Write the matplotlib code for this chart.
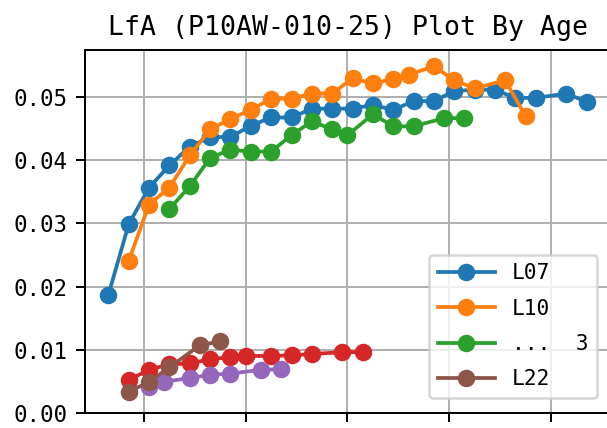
import matplotlib
matplotlib.use('Agg')
import matplotlib.pyplot as plt

plt.rcParams['font.family'] = ['DejaVu Sans Mono']

# age values and LfA values per line
age_l07 = [18.25, 19.25, 20.25, 21.25, 22.25, 23.25, 24.25, 25.25, 26.25, 27.25, 28.25, 29.25,
           30.25, 31.25, 32.25, 33.25, 34.25, 35.25, 36.25, 37.25, 38.25, 39.25, 40.75, 41.75]
lfa_l07 = [0.0187, 0.0299, 0.0357, 0.0392, 0.0422, 0.0437, 0.0437, 0.0455, 0.0468, 0.0468, 0.0482, 0.0482,
           0.0482, 0.0488, 0.0480, 0.0494, 0.0494, 0.0510, 0.0512, 0.0512, 0.0499, 0.0499, 0.0506, 0.0493]

age_l10 = [19.25, 20.25, 21.25, 22.25, 23.25, 24.25, 25.25, 26.25, 27.25, 28.25,
           29.25, 30.25, 31.25, 32.25, 33.0, 34.25, 35.25, 36.25, 37.75, 38.75]
lfa_l10 = [0.0241, 0.0330, 0.0357, 0.0408, 0.0449, 0.0466, 0.0480, 0.0498, 0.0498, 0.0506,
           0.0506, 0.0530, 0.0522, 0.0529, 0.0536, 0.0549, 0.0527, 0.0514, 0.0527, 0.0470]

age_3 = [21.25, 22.25, 23.25, 24.25, 25.25, 26.25, 27.25, 28.25, 29.25, 30.0,
         31.25, 32.25, 33.25, 34.75, 35.75]
lfa_3 = [0.0323, 0.0359, 0.0404, 0.0417, 0.0414, 0.0414, 0.0440, 0.0462, 0.0449, 0.0440,
         0.0473, 0.0454, 0.0454, 0.0467, 0.0467]

age_4 = [19.25, 20.25, 21.25, 22.25, 23.25, 24.25, 25.0, 26.25, 27.25, 28.25, 29.75, 30.75]
lfa_4 = [0.0052, 0.0068, 0.0077, 0.0078, 0.0085, 0.0088, 0.0090, 0.0090, 0.0091, 0.0093, 0.0096, 0.0096]

age_5 = [20.25, 21.0, 22.25, 23.25, 24.25, 25.75, 26.75]
lfa_5 = [0.0041, 0.0049, 0.0055, 0.0060, 0.0062, 0.0068, 0.0069]

age_l22 = [19.25, 20.25, 21.25, 22.75, 23.75]
lfa_l22 = [0.0033, 0.0049, 0.0072, 0.0107, 0.0113]

legend_labels = ['L07', 'L10', '...  3', 'L22']

fig = plt.figure(figsize=(607 / 180, 428 / 180), dpi=180)
ax = fig.add_axes([85 / 607, 15.3 / 428, (612 - 85) / 607, 362.7 / 428])

l07, = ax.plot(age_l07, lfa_l07, 'o-')
l10, = ax.plot(age_l10, lfa_l10, 'o-')
l3, = ax.plot(age_3, lfa_3, 'o-')
ax.plot(age_4, lfa_4, 'o-')
ax.plot(age_5, lfa_5, 'o-')
l22, = ax.plot(age_l22, lfa_l22, 'o-')

ax.set_xlim(17.1, 43.0)
ax.set_ylim(0, 0.0575)
ax.set_xticks([20, 25, 30, 35, 40])
# x tick labels fall below the visible area in the reference
ax.tick_params(axis='x', labelbottom=False)
ax.tick_params(axis='y', labelsize=9)
ax.grid(True)
ax.set_title('LfA (P10AW-010-25) Plot By Age', fontsize=10.6)

ax.legend([l07, l10, l3, l22], legend_labels, loc='lower right',
          fontsize=8.5, handlelength=2.7, labelspacing=0.72, borderaxespad=0.7)

fig.savefig('out.png', dpi=180)
